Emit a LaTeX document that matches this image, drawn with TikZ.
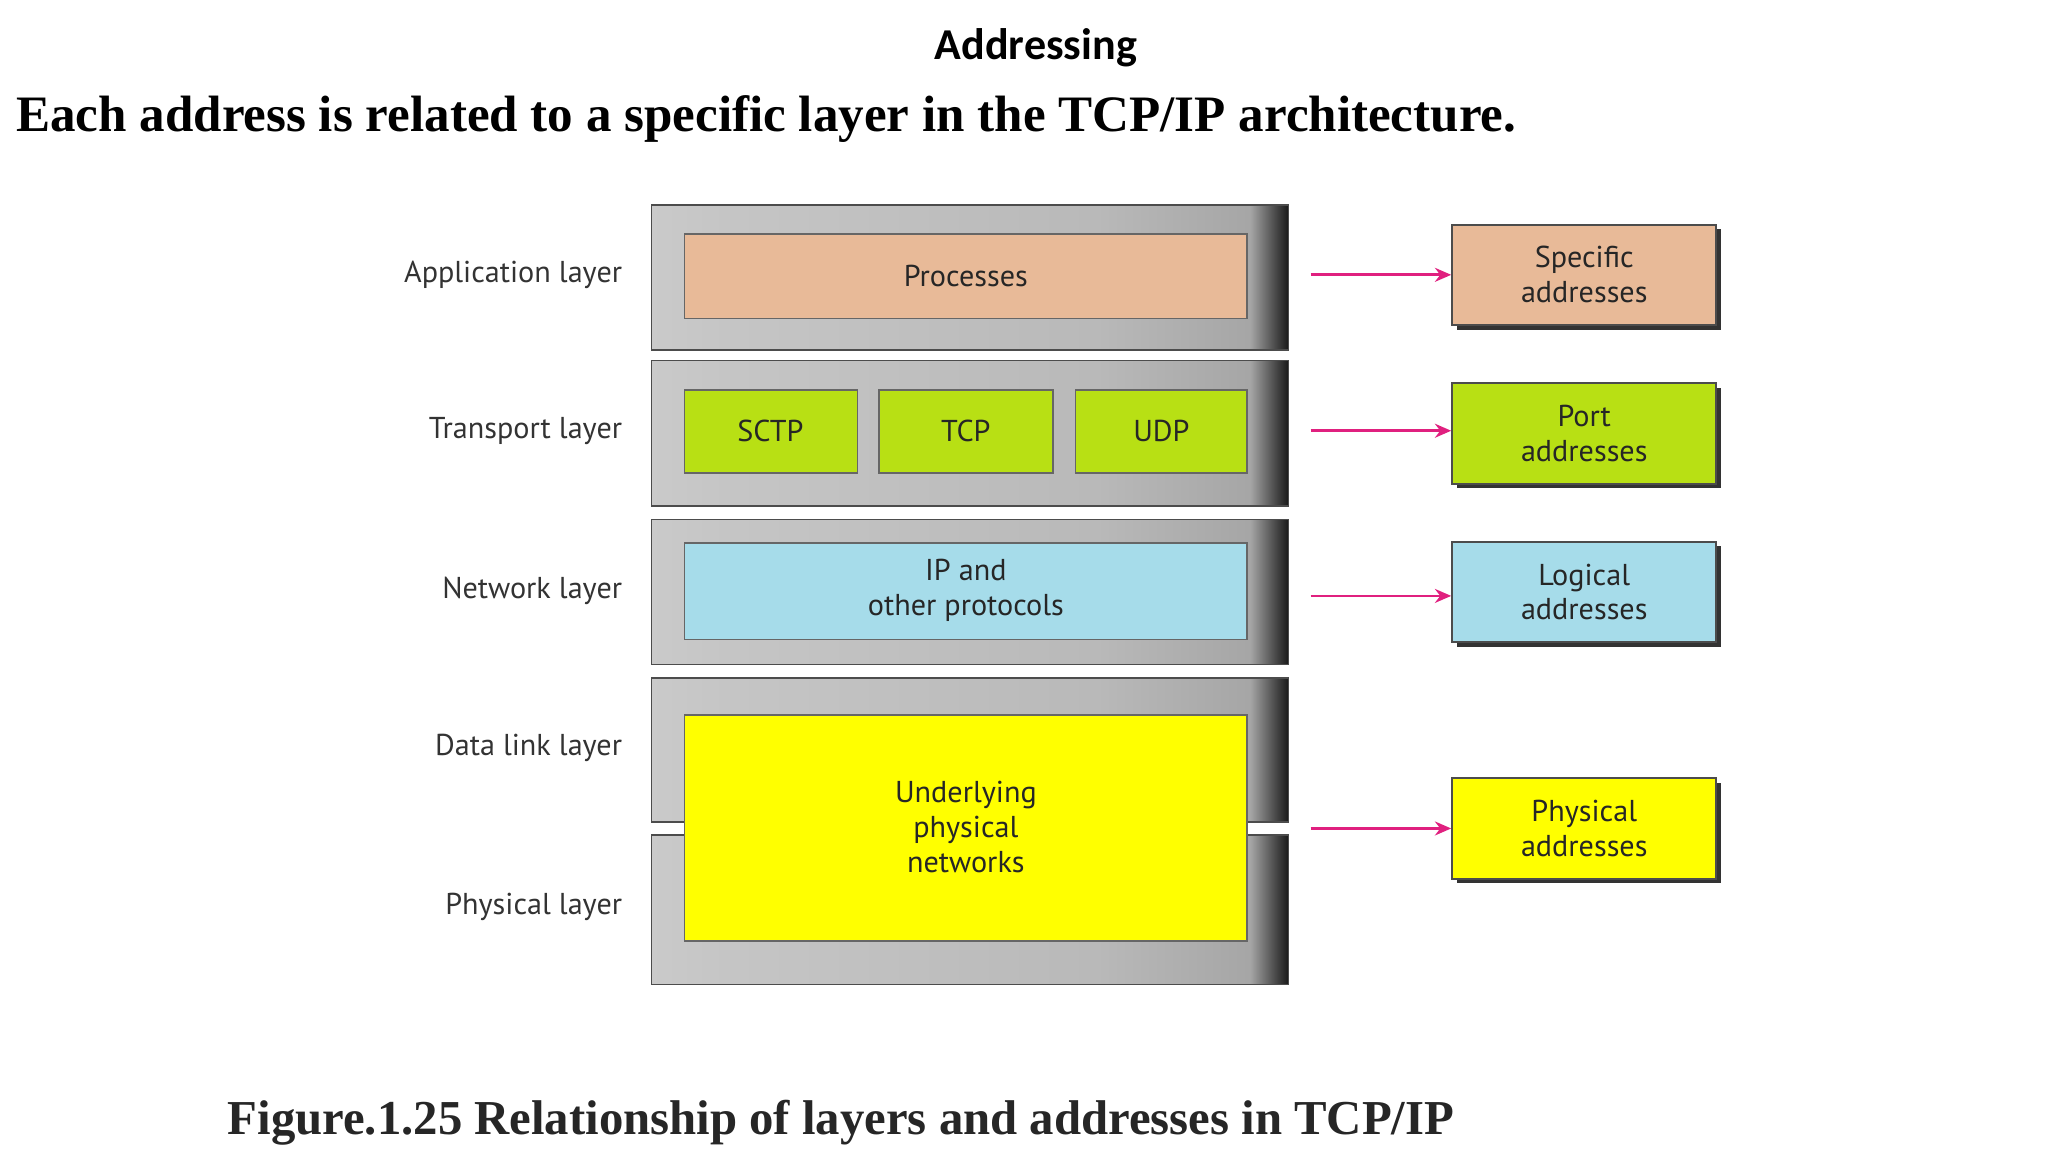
\documentclass[tikz,border=0pt]{standalone}
\usepackage{fontspec}
\setmainfont{Liberation Serif}
\newfontfamily\calfont{Carlito}
\newfontfamily\labfont{PT Sans}
\usetikzlibrary{arrows.meta,shadows}
\definecolor{tan}{HTML}{E8BA98}
\definecolor{lime}{HTML}{B8E014}
\definecolor{sky}{HTML}{A6DCEA}
\definecolor{yel}{HTML}{FFFF00}
\definecolor{mag}{HTML}{E0207F}
\pgfdeclarehorizontalshading{layershade}{100bp}{color(0bp)=(gray!25); color(30bp)=(gray!45); color(60bp)=(gray!55); color(72bp)=(gray!70); color(75bp)=(black!90); color(100bp)=(black!90)}
\begin{document}
\begin{tikzpicture}[x=0.02cm,y=-0.02cm,
  frame/.style={draw=black!70,line width=0.6pt,shading=layershade},
  inner/.style={draw=black!60,line width=0.8pt},
  lbl/.style={font=\labfont\fontsize{13}{15}\selectfont,anchor=east,text=black!80},
  itxt/.style={font=\labfont\fontsize{13}{15}\selectfont,align=center,text=black!85},
  addr/.style={draw=black!70,line width=0.8pt,font=\labfont\fontsize{13}{15}\selectfont,align=center,
     minimum width=4cm,minimum height=1.52cm,inner sep=0pt,text=black!85,
     drop shadow={shadow xshift=2pt,shadow yshift=-2pt,fill=black!80,opacity=1}},
  arr/.style={-{Stealth[length=7pt,width=6pt]},mag,line width=1.2pt}]
\useasboundingbox (0,0) rectangle (1550,872);
\node[font=\calfont\bfseries\fontsize{19}{21}\selectfont] (title) at (784,36) {Addressing};
\node[font=\bfseries\fontsize{22}{24}\selectfont,anchor=west,inner sep=0pt] (sub) at (12,90) {Each address is related to a specific layer in the TCP/IP architecture.};
% frames
\draw[frame] (493,155) rectangle (975,265);
\draw[frame] (493,273) rectangle (975,383);
\draw[frame] (493,393) rectangle (975,503);
\draw[frame] (493,513) rectangle (975,622);
\draw[frame] (493,632) rectangle (975,745);
% inner boxes
\draw[inner,fill=tan] (518,177) rectangle (944,241); \node[itxt] (proc) at (731,209) {Processes};
\draw[inner,fill=lime] (518,295) rectangle (649,358); \node[itxt] (sctp) at (583,326) {SCTP};
\draw[inner,fill=lime] (665,295) rectangle (797,358); \node[itxt] (tcp) at (731,326) {TCP};
\draw[inner,fill=lime] (814,295) rectangle (944,358); \node[itxt] (udp) at (879,326) {UDP};
\draw[inner,fill=sky] (518,411) rectangle (944,484); \node[itxt] (ip) at (731,447) {IP and\\other protocols};
\draw[inner,fill=yel] (518,541) rectangle (944,712); \node[itxt] (und) at (731,626) {Underlying\\physical\\networks};
% left labels
\node[lbl] (l1) at (477,208) {Application layer};
\node[lbl] (l2) at (477,326) {Transport layer};
\node[lbl] (l3) at (477,447) {Network layer};
\node[lbl] (l4) at (477,566) {Data link layer};
\node[lbl] (l5) at (477,686) {Physical layer};
% address boxes
\node[addr,fill=tan] (a1) at (1199,208) {Specific\\addresses};
\node[addr,fill=lime] (a2) at (1199,328) {Port\\addresses};
\node[addr,fill=sky] (a3) at (1199,448) {Logical\\addresses};
\node[addr,fill=yel] (a4) at (1199,627) {Physical\\addresses};
\coordinate (s1) at (992,208); \coordinate (s2) at (992,326);
\coordinate (s3) at (992,451); \coordinate (s4) at (992,627);
\draw[arr] (s1) -- (a1.west|-s1);
\draw[arr] (s2) -- (a2.west|-s2);
\draw[arr] (s3) -- (a3.west|-s3);
\draw[arr] (s4) -- (a4.west|-s4);
\node[font=\bfseries\fontsize{21}{24}\selectfont,anchor=west,inner sep=0pt,text=black!85] (cap) at (172,850) {Figure.1.25 Relationship of layers and addresses in TCP/IP};
\end{tikzpicture}
\end{document}
